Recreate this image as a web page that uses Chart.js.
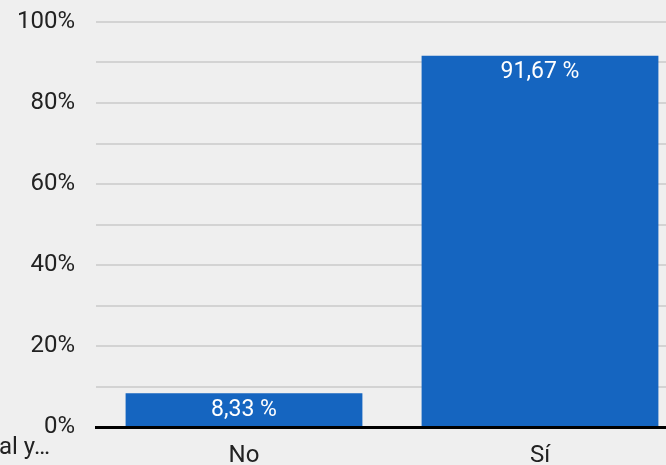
<!DOCTYPE html>
<html>
<head>
<meta charset="utf-8">
<script src="https://cdn.jsdelivr.net/npm/chart.js@4/dist/chart.umd.min.js"></script>
<style>
html,body{margin:0;padding:0;background:#efefef;overflow:hidden;width:666px;height:465px;}
#wrap{position:absolute;left:0;top:0;width:700px;height:465px;}
canvas{display:block;}
</style>
</head>
<body>
<div id="wrap"><canvas id="c" width="700" height="465"></canvas></div>
<script>
const categories = ['No', 'Sí'];
const values = [8.33, 91.67];
const valueLabels = ['8,33 %', '91,67 %'];
const leftClippedLabel = 'al y…';

const FONT = 'Roboto, "Noto Sans", sans-serif';

const dataLabelPlugin = {
  id: 'dataLabels',
  afterDatasetsDraw(chart) {
    const ctx = chart.ctx;
    const meta = chart.getDatasetMeta(0);
    ctx.save();
    ctx.font = '23px ' + FONT;
    ctx.fillStyle = '#ffffff';
    ctx.textAlign = 'center';
    ctx.textBaseline = 'middle';
    meta.data.forEach((bar, i) => {
      ctx.fillText(valueLabels[i], bar.x, bar.y + 17);
    });
    ctx.restore();
  }
};

const clippedTextPlugin = {
  id: 'clippedText',
  afterDraw(chart) {
    const ctx = chart.ctx;
    ctx.save();
    ctx.font = '24px ' + FONT;
    ctx.fillStyle = '#222222';
    ctx.textAlign = 'left';
    ctx.textBaseline = 'middle';
    ctx.fillText(leftClippedLabel, -1, 448);
    ctx.restore();
  }
};

new Chart(document.getElementById('c'), {
  type: 'bar',
  data: {
    labels: categories,
    datasets: [{
      data: values,
      backgroundColor: '#1565c0',
      borderWidth: 0,
      categoryPercentage: 1,
      barPercentage: 0.8
    }]
  },
  options: {
    responsive: false,
    animation: false,
    devicePixelRatio: 1,
    layout: { padding: { top: 22, right: 12, left: 0, bottom: 0 } },
    plugins: { legend: { display: false }, tooltip: { enabled: false } },
    scales: {
      x: {
        grid: { display: false, drawTicks: false },
        border: { display: true, color: '#000000', width: 3 },
        ticks: { color: '#222222', font: { family: FONT, size: 24 }, padding: 15 },
        afterFit(s) { s.height = 38; }
      },
      y: {
        min: 0, max: 100,
        grid: { color: '#d3d3d3', lineWidth: 2, drawTicks: false },
        border: { display: false },
        ticks: {
          stepSize: 10,
          color: '#222222',
          font: { family: FONT, size: 24 },
          padding: 21,
          autoSkip: false,
          callback: v => (v % 20 === 0 ? v + '%' : '')
        },
        afterFit(s) { s.width = 96; s.paddingTop = 0; s.paddingBottom = 0; }
      }
    }
  },
  plugins: [dataLabelPlugin, clippedTextPlugin]
});
</script>
</body>
</html>
